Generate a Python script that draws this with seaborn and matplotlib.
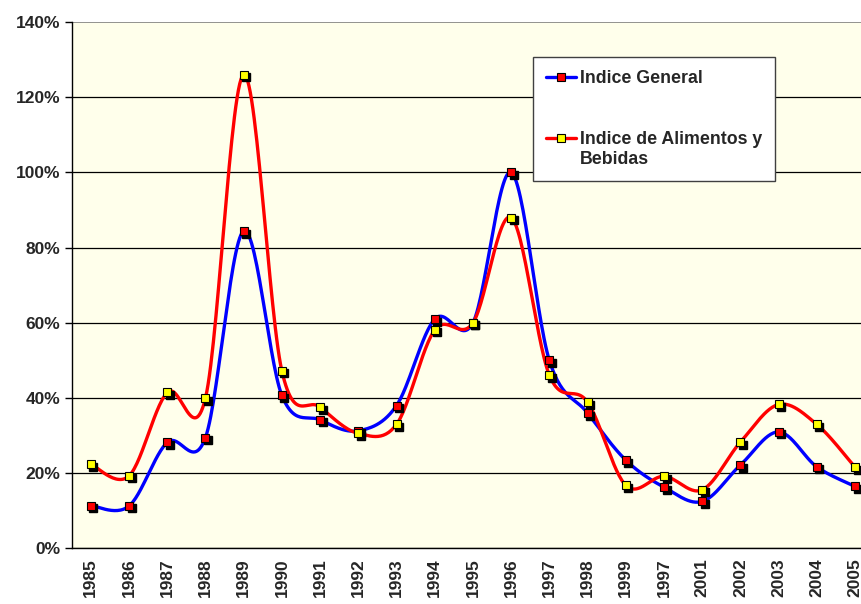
import numpy as np
import pandas as pd
import seaborn as sns
import matplotlib
matplotlib.use("Agg")
import matplotlib.pyplot as plt
import matplotlib.transforms as mtransforms
from matplotlib.lines import Line2D

anios = ["1985", "1986", "1987", "1988", "1989", "1990", "1991", "1992", "1993", "1994",
         "1995", "1996", "1997", "1998", "1999", "1997", "2001", "2002", "2003", "2004", "2005"]
indice_general = [11.4, 11.3, 28.2, 29.5, 84.4, 40.7, 34.2, 31.3, 38.0, 61.0,
                  60.0, 100.0, 50.0, 36.0, 23.5, 16.3, 12.5, 22.2, 31.0, 21.7, 16.5]
indice_alimentos = [22.4, 19.3, 41.5, 40.0, 126.0, 47.2, 37.6, 30.6, 33.0, 58.1,
                    60.0, 88.0, 46.1, 38.9, 16.8, 19.2, 15.6, 28.3, 38.3, 33.0, 21.6]

sns.set_style("white")
plt.rcParams["font.family"] = ["Liberation Sans", "DejaVu Sans"]
plt.rcParams["font.weight"] = "bold"

fig = plt.figure(figsize=(8.61, 6.04), dpi=100)
ax = fig.add_axes([0.0833, 0.0919, 0.932, 0.8717])
ax.set_facecolor("#FFFFEB")


def suavizar(y, n=30):
    # curva tipo Excel (Catmull-Rom) entre los puntos
    y = np.asarray(y, dtype=float)
    x = np.arange(len(y), dtype=float)
    px = np.concatenate([[x[0]], x, [x[-1]]])
    py = np.concatenate([[y[0]], y, [y[-1]]])
    xs, ys = [], []
    for i in range(len(y) - 1):
        p0, p1, p2, p3 = px[i], px[i + 1], px[i + 2], px[i + 3]
        q0, q1, q2, q3 = py[i], py[i + 1], py[i + 2], py[i + 3]
        c1x, c1y = p1 + (p2 - p0) / 6, q1 + (q2 - q0) / 6
        c2x, c2y = p2 - (p3 - p1) / 6, q2 - (q3 - q1) / 6
        t = np.linspace(0, 1, n)
        a, b, c, d = (1 - t) ** 3, 3 * (1 - t) ** 2 * t, 3 * (1 - t) * t ** 2, t ** 3
        xs.append(a * p1 + b * c1x + c * c2x + d * p2)
        ys.append(a * q1 + b * c1y + c * c2y + d * q2)
    return np.concatenate(xs), np.concatenate(ys)


for y in [0, 20, 40, 60, 80, 100, 120]:
    ax.axhline(y, color="black", lw=0.9, zorder=1)
ax.axhline(140, color="#808080", lw=1.2, zorder=1)

series = [
    (indice_general, "blue", "red", "Indice General"),
    (indice_alimentos, "red", "yellow", "Indice de Alimentos y\nBebidas"),
]
sombra = mtransforms.offset_copy(ax.transData, fig=fig, x=2.5, y=-2.5, units="dots")

for valores, color_linea, color_marca, nombre in series:
    sx, sy = suavizar(valores)
    df = pd.DataFrame({"x": sx, "y": sy})
    sns.lineplot(data=df, x="x", y="y", sort=False, estimator=None,
                 color=color_linea, lw=2.4, ax=ax, zorder=3)

for valores, color_linea, color_marca, nombre in series:
    pos = np.arange(len(valores))
    ax.plot(pos, valores, ls="none", marker="s", ms=6, color="black",
            transform=sombra, zorder=4)
    ax.plot(pos, valores, ls="none", marker="s", ms=6, mfc=color_marca,
            mec="black", mew=0.8, zorder=5)

ax.set_xlim(-0.5, len(anios) - 0.5)
ax.set_ylim(0, 140)
ax.set_xticks(np.arange(len(anios)))
ax.set_xticklabels(anios, rotation=90, fontsize=12.5, fontweight="bold")
ax.set_xticks(np.arange(len(anios) + 1) - 0.5, minor=True)
ax.tick_params(axis="x", which="major", length=0, pad=7)
ax.tick_params(axis="x", which="minor", length=5, width=1, color="black", direction="out")
ax.set_yticks(range(0, 141, 20))
ax.set_yticklabels([f"{v}%" for v in range(0, 141, 20)], fontsize=12.5, fontweight="bold")
ax.tick_params(axis="y", length=5, width=1, color="black", direction="out", left=True, pad=3)
ax.set_xlabel("")
ax.set_ylabel("")

for lado in ["top", "right"]:
    ax.spines[lado].set_visible(False)
for lado in ["left", "bottom"]:
    ax.spines[lado].set_color("black")
    ax.spines[lado].set_linewidth(1)

# leyenda: filas vacías para dejar el hueco como en Excel
vacio = Line2D([0], [0], color="none")
manijas = [Line2D([0], [0], color=cl, lw=2.4, marker="s", ms=6, mfc=cm, mec="black", mew=0.8)
           for _, cl, cm, _ in series]
textos = [s[3].split("\n") for s in series]
leg = fig.legend([manijas[0], vacio, vacio, manijas[1], vacio],
                 [textos[0][0], " ", " ", textos[1][0], textos[1][1]], loc="upper left",
                 bbox_to_anchor=(533 / 861, 1 - 57 / 604), frameon=True, fancybox=False,
                 edgecolor="#404040", framealpha=1, prop={"weight": "bold", "size": 12.8},
                 handlelength=1.7, handletextpad=0.2, labelspacing=0.19,
                 borderpad=0.72, borderaxespad=0)
leg.get_frame().set_linewidth(1)

fig.savefig("out.png", dpi=100)
